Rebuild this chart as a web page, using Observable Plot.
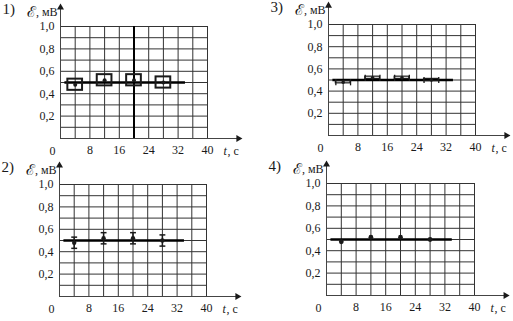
<!DOCTYPE html>
<html><head><meta charset="utf-8">
<script src="https://cdn.jsdelivr.net/npm/d3@7"></script>
<script src="https://cdn.jsdelivr.net/npm/@observablehq/plot@0.6"></script>
<style>
body{margin:0;background:#fff;}
#wrap{position:relative;width:513px;height:321px;overflow:hidden;background:#fff;}
.panel{position:absolute;}
</style></head><body><div id="wrap"></div>
<script>
// ---- data ----
const times = [4, 12, 20, 28];               // t, s
const emf = [0.48, 0.52, 0.52, 0.50];        // ℰ, mV (same measurements on all four graphs)
const fitValue = 0.5;                        // straight line ℰ = 0.5 mV
const fitFrom = 1.2, fitTo = 34;             // extent of the straight line, s
const errT = 2;                              // time uncertainty, s
const errE = 0.05;                           // emf uncertainty, mV
const xTicks = [8, 16, 24, 32, 40];
const yTicks = [0.2, 0.4, 0.6, 0.8, 1.0];
const yTickLabels = ["0,2", "0,4", "0,6", "0,8", "1,0"];
const gridT = [0, 4, 8, 12, 16, 20, 24, 28, 32, 36, 40];
const gridE = [0, 0.1, 0.2, 0.3, 0.4, 0.5, 0.6, 0.7, 0.8, 0.9, 1.0];
const panelLabels = ["1)", "2)", "3)", "4)"];
const yAxisSymbol = "ℰ";
const yAxisUnit = ", мВ";
const xAxisVar = "t";
const xAxisUnit = ", с";
const axisEndT = 49, axisEndE = 1.19;

const rows = times.map((t, i) => ({t, e: emf[i]}));
const xAxisLine = [{x1: 0, x2: axisEndT, y1: 0, y2: 0}];
const yAxisLine = [{x1: 0, x2: 0, y1: 0, y2: axisEndE}];
const xArrow = [{x: axisEndT - 0.6, y: 0}];
const yArrow = [{x: 0, y: axisEndE - 0.02}];

// ---- layout ----
const panels = [
  {n: 0, left: 0,   top: 0,   w: 256, h: 160, mL: 60, mR: 49, mT: 26, mB: 22, kind: "box"},
  {n: 2, left: 256, top: 0,   w: 257, h: 160, mL: 72, mR: 38, mT: 24, mB: 25, kind: "hbar"},
  {n: 1, left: 0,   top: 160, w: 256, h: 161, mL: 59, mR: 50, mT: 24, mB: 25, kind: "vbar"},
  {n: 3, left: 256, top: 160, w: 257, h: 161, mL: 70, mR: 39, mT: 23, mB: 26, kind: "dot"}
];

const ink = "#1a1a1a";
const font = "'Liberation Serif', 'DejaVu Serif', serif";

function dataMarks(kind) {
  if (kind === "box") return [
    Plot.rect(rows, {x1: d => d.t - errT, x2: d => d.t + errT, y1: d => d.e - errE, y2: d => d.e + errE,
      fill: "none", stroke: ink, strokeWidth: 2}),
    Plot.dot(rows, {x: "t", y: "e", r: 2, fill: ink})
  ];
  if (kind === "vbar") return [
    Plot.link(rows, {x1: "t", x2: "t", y1: d => d.e - errE, y2: d => d.e + errE, stroke: ink, strokeWidth: 1.5}),
    Plot.link(rows, {x1: d => d.t - 0.8, x2: d => d.t + 0.8, y1: d => d.e - errE, y2: d => d.e - errE, stroke: ink, strokeWidth: 1.5}),
    Plot.link(rows, {x1: d => d.t - 0.8, x2: d => d.t + 0.8, y1: d => d.e + errE, y2: d => d.e + errE, stroke: ink, strokeWidth: 1.5}),
    Plot.dot(rows, {x: "t", y: "e", r: 2.2, fill: ink})
  ];
  if (kind === "hbar") return [
    Plot.rect(rows, {x1: d => d.t - errT, x2: d => d.t + errT, y1: d => d.e - 0.01, y2: d => d.e + 0.01,
      fill: "none", stroke: ink, strokeWidth: 1.2}),
    Plot.link(rows, {x1: d => d.t - errT, x2: d => d.t - errT, y1: d => d.e - 0.028, y2: d => d.e + 0.028, stroke: ink, strokeWidth: 1.3}),
    Plot.link(rows, {x1: d => d.t + errT, x2: d => d.t + errT, y1: d => d.e - 0.028, y2: d => d.e + 0.028, stroke: ink, strokeWidth: 1.3}),
    Plot.dot(rows, {x: "t", y: "e", r: 1.8, fill: ink})
  ];
  return [Plot.dot(rows, {x: "t", y: "e", r: 2.4, fill: ink})];
}

const wrap = document.getElementById("wrap");
for (const p of panels) {
  const chart = Plot.plot({
    width: p.w, height: p.h,
    marginLeft: p.mL, marginRight: p.mR, marginTop: p.mT, marginBottom: p.mB,
    x: {domain: [0, 40], axis: null, label: null},
    y: {domain: [0, 1], axis: null, label: null},
    style: {fontFamily: font, fontSize: "12px", background: "transparent", overflow: "visible", color: ink},
    marks: [
      Plot.gridX(gridT, {stroke: "#333", strokeOpacity: 1, strokeWidth: 1}),
      Plot.gridY(gridE, {stroke: "#333", strokeOpacity: 1, strokeWidth: 1}),
      ...(p.n === 0 ? [Plot.ruleX([20], {y1: 0, y2: 1, stroke: "#000", strokeWidth: 2})] : []),
      Plot.link(xAxisLine, {x1: "x1", x2: "x2", y1: "y1", y2: "y2", stroke: "#444", strokeWidth: 1}),
      Plot.link(yAxisLine, {x1: "x1", x2: "x2", y1: "y1", y2: "y2", stroke: "#444", strokeWidth: 1}),
      Plot.dot(xArrow, {x: "x", y: "y", symbol: "triangle", rotate: 90, r: 2.6, fill: ink, stroke: "none"}),
      Plot.dot(yArrow, {x: "x", y: "y", symbol: "triangle", r: 2.6, fill: ink, stroke: "none"}),
      Plot.axisX({ticks: xTicks, tickSize: 0, tickPadding: 7, tickFormat: d => String(d), fontSize: 12, label: null}),
      Plot.axisY({ticks: yTicks, tickSize: 0, tickPadding: 6, tickFormat: (d, i) => yTickLabels[i], fontSize: 12, label: null}),
      Plot.text([0], {x: 0, y: 0, text: () => "0", dx: -8, dy: 13, fontSize: 12}),
      Plot.text([0], {x: 40, y: 0, text: () => xAxisVar, dx: 16, dy: 13, textAnchor: "start", fontStyle: "italic", fontSize: 12}),
      Plot.text([0], {x: 40, y: 0, text: () => xAxisUnit, dx: 20, dy: 13, textAnchor: "start", fontSize: 12}),
      Plot.text([0], {x: 0, y: 1, text: () => yAxisUnit, dx: -3, dy: -14, textAnchor: "end", fontSize: 12}),
      Plot.text([0], {x: 0, y: 1, text: () => yAxisSymbol, dx: -25, dy: -14, textAnchor: "end", fontSize: 15, fontFamily: "'DejaVu Serif', serif"}),
      Plot.text([0], {x: 0, y: 1, text: () => panelLabels[p.n], dx: -58, dy: -17, textAnchor: "start", fontSize: 15}),
      Plot.ruleY([fitValue], {x1: fitFrom, x2: fitTo, stroke: "#000", strokeWidth: 2.5}),
      ...dataMarks(p.kind)
    ]
  });
  chart.classList.add("panel");
  chart.style.left = p.left + "px";
  chart.style.top = p.top + "px";
  wrap.appendChild(chart);
}
</script></body></html>
